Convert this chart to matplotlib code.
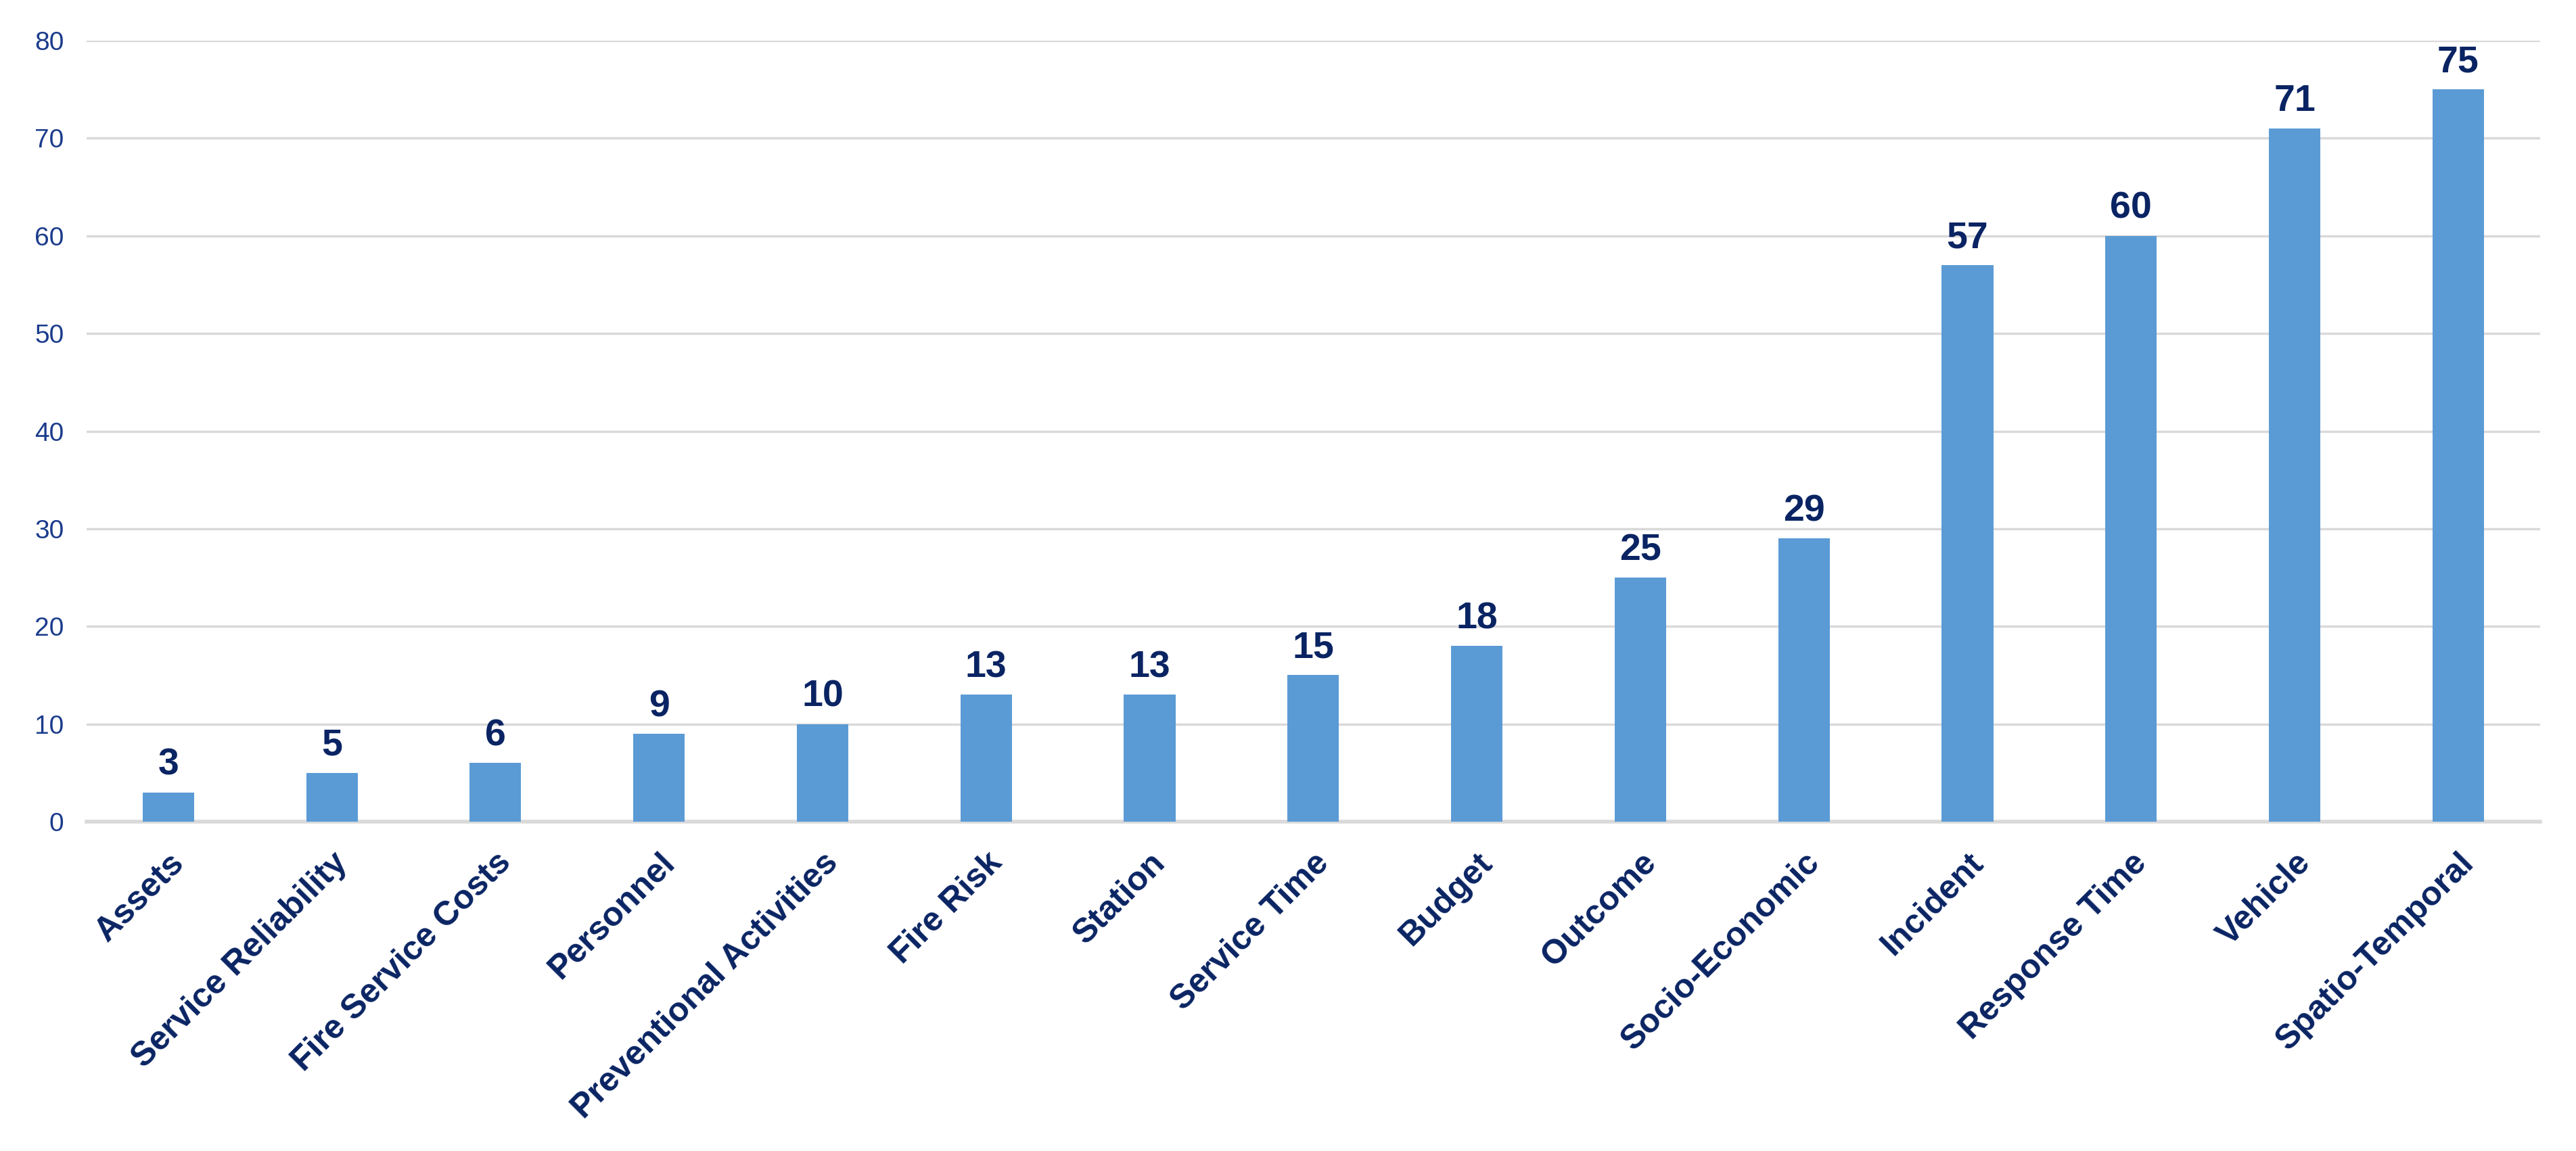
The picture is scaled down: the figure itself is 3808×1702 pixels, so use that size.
import matplotlib
matplotlib.use("Agg")
import matplotlib.pyplot as plt
import matplotlib.transforms as mtransforms
import numpy as np
from matplotlib import font_manager

categories = ["Assets", "Service Reliability", "Fire Service Costs", "Personnel",
              "Preventional Activities", "Fire Risk", "Station", "Service Time",
              "Budget", "Outcome", "Socio-Economic", "Incident", "Response Time",
              "Vehicle", "Spatio-Temporal"]
counts = [3, 5, 6, 9, 10, 13, 13, 15, 18, 25, 29, 57, 60, 71, 75]
yticks = [0, 10, 20, 30, 40, 50, 60, 70, 80]

BAR = "#5B9BD5"
NAVY = "#0A2463"

names = {f.name for f in font_manager.fontManager.ttflist}
narrow = "Liberation Sans Narrow" if "Liberation Sans Narrow" in names else "Liberation Sans"
plt.rcParams["font.family"] = ["Liberation Sans", "DejaVu Sans"]

fig = plt.figure(figsize=(38.08, 17.02), dpi=100)
# axes spans grid from 0 (y=1215px) to 80 (y=60px)
ax = fig.add_axes([0.0336, 0.2861, 0.9524, 0.6786])

x = np.arange(len(categories))
ax.bar(x, counts, width=0.315, color=BAR, zorder=3)

for xi, v in zip(x, counts):
    ax.annotate(str(v), (xi, v), xytext=(0, 10), textcoords="offset points",
                ha="center", va="bottom", fontsize=40, fontweight="bold",
                color=NAVY)

ax.set_xlim(-0.5, len(categories) - 0.5)
ax.set_ylim(0, 80)
ax.set_yticks(yticks)
ax.set_yticklabels([str(t) for t in yticks], fontsize=28, color="#1B3C8C",
                   family=[narrow, "DejaVu Sans"])
ax.set_xticks(x)
ax.set_xticklabels(categories, rotation=45, ha="right", rotation_mode="anchor",
                   fontsize=36, fontweight="bold", color=NAVY)
# nudge rotated labels a bit to the left
shift = mtransforms.ScaledTranslation(-8 / 100, 0, fig.dpi_scale_trans)
for lbl in ax.get_xticklabels():
    lbl.set_transform(lbl.get_transform() + shift)

ax.yaxis.grid(True, color="#D9D9D9", linewidth=2.5, zorder=0)
ax.tick_params(axis="both", length=0)
ax.tick_params(axis="y", pad=24)
ax.tick_params(axis="x", pad=27)
for s in ["top", "right", "left"]:
    ax.spines[s].set_visible(False)
ax.spines["bottom"].set_color("#D9D9D9")
ax.spines["bottom"].set_linewidth(4)

fig.savefig("out.png", dpi=100, facecolor="white")
